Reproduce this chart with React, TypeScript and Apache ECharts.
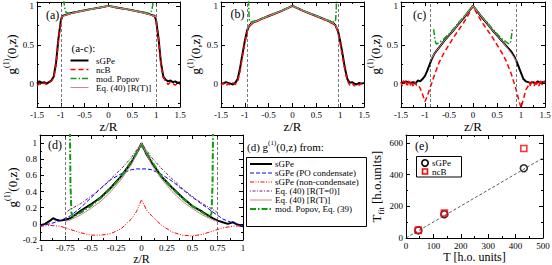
import React, { useEffect, useRef } from 'react';
import * as echarts from 'echarts';

const FONT = 'Liberation Serif';

// ---------- panel (a) ----------
const zA = [-1.5,-1.45,-1.4,-1.35,-1.3,-1.25,-1.2,-1.15,-1.1,-1.05,-1.0,-0.97,-0.9,-0.8,-0.6,-0.4,-0.2,0,0.2,0.4,0.6,0.8,0.9,0.97,1.0,1.05,1.1,1.15,1.2,1.25,1.3,1.35,1.4,1.45,1.5];
const sgpeA = [0.0,0.03,0.01,0.02,0.0,0.02,0.04,0.09,0.27,0.58,0.81,0.87,0.885,0.905,0.93,0.955,0.977,1.0,0.977,0.955,0.93,0.905,0.885,0.87,0.81,0.58,0.27,0.09,0.05,0.03,0.04,0.02,0.03,0.01,0.02];
const ncbA = [-0.03,0.0,-0.02,0.01,-0.01,0.02,0.03,0.07,0.24,0.56,0.8,0.865,0.88,0.9,0.93,0.953,0.975,1.0,0.975,0.953,0.93,0.9,0.88,0.865,0.8,0.57,0.25,0.08,0.03,-0.01,0.02,0.0,-0.02,0.01,-0.01];
const zPopA = [-0.94,-0.925,-0.91,-0.89,-0.85,-0.6,-0.4,-0.2,0,0.2,0.4,0.6,0.85,0.89,0.91,0.925,0.94];
const popA = [1.08,1.0,0.95,0.915,0.905,0.932,0.956,0.978,1.0,0.978,0.956,0.932,0.905,0.915,0.95,1.0,1.08];
const zEqA = [-1,-0.9,-0.8,-0.6,-0.4,-0.2,0,0.2,0.4,0.6,0.8,0.9,1];
const eqA = [0.86,0.88,0.9,0.93,0.953,0.976,1.0,0.976,0.953,0.93,0.9,0.88,0.86];

// ---------- panel (b) ----------
const zB = [-1.5,-1.45,-1.4,-1.35,-1.3,-1.25,-1.2,-1.15,-1.1,-1.05,-1.0,-0.95,-0.9,-0.85,-0.7,-0.5,-0.25,0,0.25,0.5,0.7,0.85,0.9,0.95,1.0,1.05,1.1,1.15,1.2,1.25,1.3,1.35,1.4,1.45,1.5];
const sgpeB = [0.01,0.0,0.02,0.01,0.0,-0.01,0.01,0.06,0.2,0.38,0.55,0.69,0.75,0.78,0.82,0.87,0.93,1.0,0.93,0.87,0.82,0.78,0.75,0.69,0.55,0.38,0.2,0.06,0.01,0.02,0.0,-0.01,0.01,0.0,0.01];
const ncbB = [-0.02,0.01,-0.03,0.0,-0.02,0.01,-0.01,0.03,0.16,0.35,0.52,0.67,0.74,0.77,0.815,0.865,0.93,1.0,0.93,0.865,0.815,0.77,0.74,0.67,0.52,0.35,0.17,0.04,-0.02,0.01,-0.03,0.0,-0.02,0.01,-0.01];
const zPopB = [-0.925,-0.915,-0.905,-0.89,-0.85,-0.7,-0.5,-0.25,0,0.25,0.5,0.7,0.85,0.89,0.905,0.915,0.925];
const popB = [1.08,0.92,0.82,0.79,0.795,0.825,0.875,0.935,1.0,0.935,0.875,0.825,0.795,0.79,0.82,0.92,1.08];
const zEqB = [-0.95,-0.9,-0.85,-0.7,-0.5,-0.25,0,0.25,0.5,0.7,0.85,0.9,0.95];
const eqB = [0.7,0.75,0.78,0.82,0.87,0.93,1.0,0.93,0.87,0.82,0.78,0.75,0.7];

// ---------- panel (c) ----------
const zC = [-1.5,-1.45,-1.4,-1.35,-1.3,-1.25,-1.2,-1.15,-1.1,-1.05,-1.0,-0.95,-0.9,-0.85,-0.8,-0.7,-0.6,-0.5,-0.4,-0.3,-0.2,-0.1,0,0.1,0.2,0.3,0.4,0.5,0.6,0.7,0.8,0.85,0.9,0.95,1.0,1.05,1.1,1.15,1.2,1.25,1.3,1.35,1.4,1.45,1.5];
const sgpeC = [0.02,0.01,0.03,0.02,0.01,0.02,0.0,0.04,0.03,0.06,0.1,0.17,0.25,0.33,0.39,0.47,0.55,0.62,0.69,0.77,0.84,0.92,1.0,0.92,0.84,0.77,0.69,0.62,0.55,0.48,0.41,0.36,0.3,0.22,0.14,0.06,0.03,0.02,0.01,0.02,0.0,0.03,0.01,0.02,0.03];
const zNcbC = [-1.5,-1.475,-1.45,-1.425,-1.4,-1.375,-1.35,-1.325,-1.3,-1.275,-1.25,-1.225,-1.2,-1.175,-1.15,-1.1,-1.05,-1.0,-0.95,-0.9,-0.85,-0.8,-0.7,-0.6,-0.5,-0.4,-0.3,-0.2,-0.1,0,0.1,0.2,0.3,0.4,0.5,0.6,0.7,0.8,0.85,0.9,0.95,1.0,1.05,1.1,1.15,1.175,1.2,1.225,1.25,1.275,1.3,1.325,1.35,1.375,1.4,1.425,1.45,1.475,1.5];
const ncbC = [0.02,-0.03,0.04,-0.01,0.03,-0.04,0.01,0.05,-0.02,0.02,-0.03,0.03,0.0,-0.02,-0.01,-0.06,-0.14,-0.23,-0.16,-0.06,0.02,0.12,0.28,0.4,0.5,0.6,0.69,0.78,0.88,1.0,0.88,0.78,0.69,0.6,0.5,0.4,0.28,0.12,0.02,-0.08,-0.2,-0.31,-0.2,-0.08,-0.03,0.02,-0.04,0.03,0.0,-0.03,0.04,-0.01,0.02,-0.03,0.05,0.0,-0.02,0.03,0.01];
const zPopC = [-0.82,-0.8,-0.78,-0.76,-0.7,-0.6,-0.5,-0.4,-0.3,-0.2,-0.1,0,0.1,0.2,0.3,0.4,0.5,0.6,0.7,0.76,0.78,0.8,0.82];
const popC = [0.7,0.6,0.53,0.51,0.53,0.58,0.64,0.71,0.785,0.855,0.93,1.0,0.93,0.855,0.785,0.71,0.64,0.58,0.53,0.51,0.53,0.6,0.7];
const zEqC = [-0.9,-0.8,-0.7,-0.6,-0.5,-0.4,-0.3,-0.2,-0.1,0,0.1,0.2,0.3,0.4,0.5,0.6,0.7,0.8,0.9];
const eqC = [0.29,0.39,0.47,0.55,0.62,0.69,0.77,0.845,0.92,1.0,0.92,0.845,0.77,0.69,0.62,0.55,0.47,0.39,0.29];

// ---------- panel (d) ----------
const zD = [-1,-0.95,-0.9,-0.87,-0.84,-0.8,-0.75,-0.7,-0.6,-0.5,-0.4,-0.3,-0.2,-0.1,-0.05,0,0.05,0.1,0.2,0.3,0.4,0.5,0.6,0.7,0.75,0.8,0.85,0.9,0.93,0.97,1];
const sgpeD = [-0.02,0.0,0.04,0.07,0.05,0.04,0.05,0.07,0.16,0.24,0.33,0.45,0.59,0.76,0.87,1.0,0.86,0.76,0.58,0.45,0.33,0.22,0.15,0.07,0.04,0.02,0.0,0.02,0.0,-0.02,-0.03];
const zD2 = [-1,-0.9,-0.8,-0.7,-0.6,-0.5,-0.4,-0.3,-0.2,-0.1,-0.05,0,0.05,0.1,0.2,0.3,0.4,0.5,0.6,0.7,0.8,0.9,1];
const poD = [-0.02,0.0,0.04,0.1,0.2,0.32,0.44,0.55,0.62,0.67,0.68,0.68,0.68,0.67,0.61,0.53,0.43,0.33,0.24,0.15,0.06,0.01,-0.02];
const nonD = [-0.03,-0.02,-0.03,-0.07,-0.11,-0.14,-0.14,-0.12,-0.06,0.06,0.15,0.3,0.17,0.1,-0.02,-0.1,-0.14,-0.15,-0.13,-0.09,-0.05,-0.03,-0.02];
const zEqD = [-0.75,-0.7,-0.6,-0.5,-0.4,-0.3,-0.2,-0.1,0,0.1,0.2,0.3,0.4,0.5,0.6,0.7,0.75];
const eqT0D = [0.14,0.18,0.25,0.34,0.44,0.56,0.68,0.82,1.0,0.82,0.68,0.56,0.44,0.34,0.25,0.18,0.14];
const eqRTD = [0.03,0.05,0.11,0.19,0.28,0.4,0.55,0.73,1.0,0.73,0.55,0.4,0.28,0.19,0.11,0.05,0.03];
const zPopD = [-0.705,-0.7,-0.69,-0.67,-0.6,-0.5,-0.4,-0.3,-0.2,-0.1,-0.05,0,0.05,0.1,0.2,0.3,0.4,0.5,0.6,0.67,0.69,0.7,0.705];
const popD = [1.15,0.5,0.13,0.09,0.14,0.22,0.32,0.44,0.58,0.78,0.88,0.97,0.88,0.78,0.58,0.44,0.32,0.22,0.14,0.08,0.13,0.5,1.15];

// ---------- panel (e) ----------
const tE = [45, 140, 430];
const fitSgpeE = [48, 150, 440];
const fitNcbE = [50, 157, 565];
const fitLineT = [0, 500];
const fitLineV = [0, 505];

// condensate edges (dashed verticals) for a, b, c, d
const edges = [1, 0.95, 0.9, 0.75];

// ticks
const xTicksABC = [-1.5, -1, -0.5, 0, 0.5, 1, 1.5];
const xMinorABC = [-1.25, -0.75, -0.25, 0.25, 0.75, 1.25];
const yTicksABC = [0, 0.5, 1];
const yMinorABC = [-0.25, 0.25, 0.75];
const xTicksD = [-1, -0.75, -0.5, -0.25, 0, 0.25, 0.5, 0.75, 1];
const xMinorD = [-0.875, -0.625, -0.375, -0.125, 0.125, 0.375, 0.625, 0.875];
const yTicksD = [-0.2, 0, 0.2, 0.4, 0.6, 0.8, 1];
const yMinorD = [-0.1, 0.1, 0.3, 0.5, 0.7, 0.9];
const xTicksE = [0, 100, 200, 300, 400, 500];
const xMinorE = [50, 150, 250, 350, 450];
const yTicksE = [0, 200, 400, 600];
const yMinorE = [100, 300, 500];

const zip = (x: number[], y: number[]) => x.map((v, i) => [v, y[i]]);

const BLACK = '#000000';
const RED = '#ff0000';
const GREEN = '#119a11';
const BROWN = '#c58a8a';
const PURPLE = '#7a1f6a';
const BLUE = '#0000ff';

function axisSet(kind: 'x' | 'y', grid: number, s: any) {
  const pos = kind === 'x' ? ['bottom', 'top'] : ['left', 'right'];
  const common = { gridIndex: grid, type: 'value', min: s.min, max: s.max, splitLine: { show: false }, scale: false };
  const tick = (vals: number[], len: number) => ({ show: true, inside: true, length: len, customValues: vals, lineStyle: { color: '#000', width: 1 } });
  const line = (show: boolean) => ({ show, onZero: false, lineStyle: { color: '#000', width: 1 } });
  const main: any = {
    ...common, position: pos[0], axisLine: line(true), axisTick: tick(s.majors, 4),
    axisLabel: { show: true, customValues: s.majors, fontFamily: FONT, fontSize: 9, color: '#000', margin: 3, hideOverlap: false },
    name: s.name, nameLocation: 'middle', nameGap: s.nameGap, nameTextStyle: s.nameStyle,
  };
  const mainMinor = { ...common, position: pos[0], axisLine: line(false), axisTick: tick(s.minors, 2), axisLabel: { show: false } };
  const opp = { ...common, position: pos[1], axisLine: line(true), axisTick: tick(s.majors, 4), axisLabel: { show: false } };
  const oppMinor = { ...common, position: pos[1], axisLine: line(false), axisTick: tick(s.minors, 2), axisLabel: { show: false } };
  return [main, mainMinor, opp, oppMinor];
}

const gName = '{g|g}{s|(1)}{g|(0,z)}';
const gStyle = {
  fontFamily: FONT, fontSize: 13, color: '#000',
  rich: {
    g: { fontFamily: FONT, fontSize: 13, lineHeight: 18, verticalAlign: 'middle', color: '#000' },
    s: { fontFamily: FONT, fontSize: 8, lineHeight: 18, verticalAlign: 'top', color: '#000' },
  },
};
const xNameStyle = { fontFamily: FONT, fontSize: 13, color: '#000' };
const xNameStyleLow = { fontFamily: FONT, fontSize: 12, lineHeight: 13, color: '#000' };

function vline(r: number) {
  return {
    silent: true, symbol: ['none', 'none'], label: { show: false }, animation: false,
    lineStyle: { color: '#555', type: [3, 2], width: 0.8 },
    data: [{ xAxis: -r }, { xAxis: r }],
  };
}

function lineSeries(name: string, g: number, data: number[][], ls: any, extra: any = {}) {
  return {
    type: 'line', name, xAxisIndex: g * 4, yAxisIndex: g * 4, data, showSymbol: false, symbol: 'none',
    lineStyle: ls, clip: true, animation: false, ...extra,
  };
}

function buildOption() {
  const grids = [
    { left: 37, top: 2, width: 143, height: 105 },
    { left: 221, top: 2, width: 143, height: 105 },
    { left: 401, top: 2, width: 144, height: 105 },
    { left: 40, top: 135, width: 203, height: 105 },
    { left: 406, top: 135, width: 137, height: 103 },
  ].map((g) => ({ ...g, containLabel: false, outerBoundsMode: 'none' }));

  const xAxis: any[] = [];
  const yAxis: any[] = [];
  for (let i = 0; i < 3; i++) {
    xAxis.push(...axisSet('x', i, { min: -1.5, max: 1.5, majors: xTicksABC, minors: xMinorABC, name: 'z/R', nameGap: 11, nameStyle: xNameStyle }));
    yAxis.push(...axisSet('y', i, { min: -0.3, max: 1.05, majors: yTicksABC, minors: yMinorABC, name: gName, nameGap: 17, nameStyle: gStyle }));
  }
  xAxis.push(...axisSet('x', 3, { min: -1, max: 1, majors: xTicksD, minors: xMinorD, name: 'z/R', nameGap: 10, nameStyle: xNameStyleLow }));
  yAxis.push(...axisSet('y', 3, { min: -0.2, max: 1.1, majors: yTicksD, minors: yMinorD, name: gName, nameGap: 19, nameStyle: gStyle }));
  xAxis.push(...axisSet('x', 4, { min: 0, max: 500, majors: xTicksE, minors: xMinorE, name: 'T [h.o. units]', nameGap: 11, nameStyle: xNameStyleLow }));
  yAxis.push(...axisSet('y', 4, {
    min: 0, max: 650, majors: yTicksE, minors: yMinorE, name: '{t|T}{s|fit} [h.o.units]', nameGap: 20,
    nameStyle: {
      fontFamily: FONT, fontSize: 13, color: '#000', lineHeight: 18,
      rich: {
        t: { fontFamily: FONT, fontSize: 13, lineHeight: 18, verticalAlign: 'middle', color: '#000' },
        s: { fontFamily: FONT, fontSize: 8, lineHeight: 18, verticalAlign: 'bottom', color: '#000' },
      },
    },
  }));

  const sBlack = { color: BLACK, width: 2 };
  const sRed = { color: RED, width: 1.5, type: [5, 3] };
  const sGreen = { color: GREEN, width: 1.5, type: [6, 2, 1.5, 2] };
  const sBrown = { color: BROWN, width: 1 };

  const series: any[] = [];
  const abc = [
    { z: zA, s: sgpeA, zn: zA, n: ncbA, zp: zPopA, p: popA, ze: zEqA, e: eqA },
    { z: zB, s: sgpeB, zn: zB, n: ncbB, zp: zPopB, p: popB, ze: zEqB, e: eqB },
    { z: zC, s: sgpeC, zn: zNcbC, n: ncbC, zp: zPopC, p: popC, ze: zEqC, e: eqC },
  ];
  abc.forEach((d, i) => {
    series.push(lineSeries('sGPe', i, zip(d.z, d.s), sBlack, { markLine: vline(edges[i]) }));
    series.push(lineSeries('ncB', i, zip(d.zn, d.n), sRed));
    series.push(lineSeries('mod. Popov', i, zip(d.zp, d.p), sGreen));
    series.push(lineSeries('Eq. (40) [R(T)]', i, zip(d.ze, d.e), sBrown));
  });

  series.push(lineSeries('sGPe', 3, zip(zD, sgpeD), sBlack, { markLine: vline(edges[3]) }));
  series.push(lineSeries('sGPe (PO condensate)', 3, zip(zD2, poD), { color: BLUE, width: 1, type: [4, 2] }));
  series.push(lineSeries('sGPe (non-condensate)', 3, zip(zD2, nonD), { color: RED, width: 1, type: [4, 1.5, 1, 1.5, 1, 1.5] }));
  series.push(lineSeries('Eq. (40) [R(T=0)]', 3, zip(zEqD, eqT0D), { color: PURPLE, width: 1, type: [1, 1.5, 3, 1.5] }));
  series.push(lineSeries('Eq. (40) [R(T)]', 3, zip(zEqD, eqRTD), sBrown));
  series.push(lineSeries('mod. Popov, Eq. (39)', 3, zip(zPopD, popD), { color: GREEN, width: 2, type: [6, 2, 1.5, 2] }));

  series.push(lineSeries('fit', 4, zip(fitLineT, fitLineV), { color: '#333', width: 0.8, type: [3, 2] }));
  series.push({
    type: 'scatter', name: 'sGPe fit', xAxisIndex: 16, yAxisIndex: 16, data: zip(tE, fitSgpeE),
    symbol: 'circle', symbolSize: 7, itemStyle: { color: 'rgba(0,0,0,0)', borderColor: BLACK, borderWidth: 1.6 }, animation: false,
  });
  series.push({
    type: 'scatter', name: 'ncB fit', xAxisIndex: 16, yAxisIndex: 16, data: zip(tE, fitNcbE),
    symbol: 'rect', symbolSize: 6, itemStyle: { color: 'rgba(255,255,255,0)', borderColor: RED, borderWidth: 1.6 }, animation: false,
  });

  const txt = (text: string, x: number, y: number, size: number, extra: any = {}) => ({
    type: 'text', x, y, silent: true,
    style: { text, fontFamily: FONT, fontSize: size, fill: '#000', align: 'left', verticalAlign: 'middle', ...extra },
  });
  const seg = (x1: number, x2: number, y: number, stroke: string, lineWidth: number, lineDash?: number[]) => ({
    type: 'line', silent: true, shape: { x1, y1: y, x2, y2: y }, style: { stroke, lineWidth, lineDash },
  });

  const graphic: any[] = [
    txt('(a)', 46, 15, 12), txt('(b)', 230.5, 13.5, 12), txt('(c)', 413, 15, 12),
    txt('(d)', 48, 145, 12), txt('(e)', 415, 146, 12),
    // (a-c) legend
    txt('(a-c):', 71.5, 48, 11),
    seg(70.5, 88.5, 60.5, BLACK, 2), txt('sGPe', 96, 60.5, 9),
    seg(70.5, 88.5, 69.5, RED, 1.5, [5, 3]), txt('ncB', 96, 69.5, 9),
    seg(70.5, 88.5, 78.5, GREEN, 1.5, [6, 2, 1.5, 2]), txt('mod. Popov', 96, 78.5, 9),
    seg(70.5, 88.5, 87.5, BROWN, 1), txt('Eq. (40) [R(T)]', 96, 87.5, 9),
    // (d) legend
    {
      type: 'text', x: 247, y: 147, silent: true,
      style: {
        text: '{m|(d) g}{s|(1)}{m|(0,z) from:}', fontFamily: FONT, fontSize: 11, fill: '#000', verticalAlign: 'middle',
        rich: {
          m: { fontFamily: FONT, fontSize: 11, lineHeight: 15, verticalAlign: 'middle', fill: '#000' },
          s: { fontFamily: FONT, fontSize: 7, lineHeight: 15, verticalAlign: 'top', fill: '#000' },
        },
      },
    },
    { type: 'rect', silent: true, shape: { x: 246.5, y: 157.5, width: 120, height: 69 }, style: { fill: '#fff', stroke: '#000', lineWidth: 1 } },
    seg(250, 272, 164, BLACK, 2), txt('sGPe', 275, 164, 9),
    seg(250, 272, 173, BLUE, 1, [4, 2]), txt('sGPe (PO condensate)', 275, 173, 9),
    seg(250, 272, 182, RED, 1, [4, 1.5, 1, 1.5, 1, 1.5]), txt('sGPe (non-condensate)', 275, 182, 9),
    seg(250, 272, 191, PURPLE, 1, [1, 1.5, 3, 1.5]), txt('Eq. (40) [R(T=0)]', 275, 191, 9),
    seg(250, 272, 200, BROWN, 1), txt('Eq. (40) [R(T)]', 275, 200, 9),
    seg(250, 272, 209, GREEN, 2, [6, 2, 1.5, 2]), txt('mod. Popov, Eq. (39)', 275, 209, 9),
    // (e) legend
    { type: 'rect', silent: true, shape: { x: 416.5, y: 156.5, width: 45, height: 20.5 }, style: { fill: '#fff', stroke: '#000', lineWidth: 1 } },
    { type: 'circle', silent: true, shape: { cx: 425, cy: 163, r: 3.2 }, style: { fill: 'none', stroke: BLACK, lineWidth: 1.6 } },
    txt('sGPe', 432, 163, 9),
    { type: 'rect', silent: true, shape: { x: 422.5, y: 169, width: 5, height: 5 }, style: { fill: 'none', stroke: RED, lineWidth: 1.6 } },
    txt('ncB', 432, 171.5, 9),
  ];

  return { animation: false, backgroundColor: '#fff', grid: grids, xAxis, yAxis, series, graphic };
}

export default function App() {
  const ref = useRef<HTMLDivElement>(null);
  useEffect(() => {
    const chart = echarts.init(ref.current!, null, { renderer: 'svg' });
    chart.setOption(buildOption() as any);
    return () => chart.dispose();
  }, []);
  return <div ref={ref} style={{ position: 'absolute', left: 0, top: 0, width: 552, height: 265 }} />;
}
